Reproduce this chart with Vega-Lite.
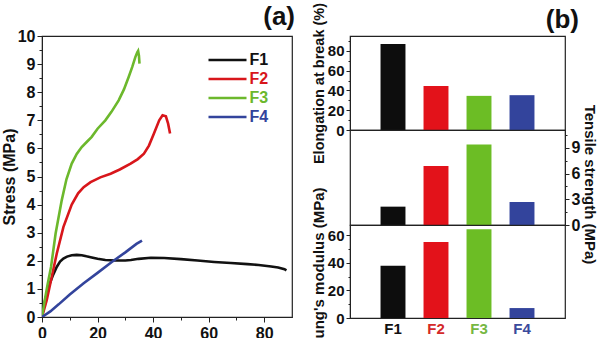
{
  "$schema": "https://vega.github.io/schema/vega-lite/v6.json",
  "padding": {"left": 0, "top": 1, "right": 0, "bottom": 0},
  "background": "white",
  "config": {
    "font": "Liberation Sans",
    "view": {"stroke": "#222", "strokeWidth": 1.2},
    "axis": {
      "domainColor": "#222",
      "tickColor": "#222",
      "labelColor": "#111",
      "labelFont": "Liberation Sans",
      "labelFontWeight": "bold",
      "titleFont": "Liberation Sans",
      "titleFontWeight": "bold",
      "titleColor": "#111",
      "grid": false
    }
  },
  "datasets": {
    "bars": [
      {"s": "F1", "elong": 87, "tensile": 2.14, "modulus": 37.8},
      {"s": "F2", "elong": 44.5, "tensile": 6.88, "modulus": 55.1},
      {"s": "F3", "elong": 34.5, "tensile": 9.4, "modulus": 64.3},
      {"s": "F4", "elong": 35.2, "tensile": 2.68, "modulus": 7.2}
    ]
  },
  "bounds": "flush",
  "spacing": 58,
  "resolve": {"scale": {"color": "independent"}, "legend": {"color": "independent"}},
  "hconcat": [
    {
      "width": 250,
      "height": 281,
      "title": {"text": "(a)", "anchor": "end", "fontSize": 26, "fontWeight": "bold", "font": "Liberation Sans", "color": "#111", "offset": 0, "dx": 3, "dy": 2},
      "data": {"values": [
        {"s": "F1", "o": 1, "strain": 0, "stress": 0},
        {"s": "F1", "o": 2, "strain": 0.5, "stress": 0.3},
        {"s": "F1", "o": 3, "strain": 1.1, "stress": 0.59},
        {"s": "F1", "o": 4, "strain": 2, "stress": 0.95},
        {"s": "F1", "o": 5, "strain": 2.9, "stress": 1.22},
        {"s": "F1", "o": 6, "strain": 4, "stress": 1.5},
        {"s": "F1", "o": 7, "strain": 5.3, "stress": 1.78},
        {"s": "F1", "o": 8, "strain": 6.5, "stress": 1.97},
        {"s": "F1", "o": 9, "strain": 7.7, "stress": 2.08},
        {"s": "F1", "o": 10, "strain": 9, "stress": 2.15},
        {"s": "F1", "o": 11, "strain": 10.7, "stress": 2.2},
        {"s": "F1", "o": 12, "strain": 12.5, "stress": 2.21},
        {"s": "F1", "o": 13, "strain": 14.3, "stress": 2.2},
        {"s": "F1", "o": 14, "strain": 16, "stress": 2.16},
        {"s": "F1", "o": 15, "strain": 17.9, "stress": 2.12},
        {"s": "F1", "o": 16, "strain": 20, "stress": 2.07},
        {"s": "F1", "o": 17, "strain": 22.8, "stress": 2.03},
        {"s": "F1", "o": 18, "strain": 26.4, "stress": 2.01},
        {"s": "F1", "o": 19, "strain": 30, "stress": 2.01},
        {"s": "F1", "o": 20, "strain": 32, "stress": 2.03},
        {"s": "F1", "o": 21, "strain": 34.8, "stress": 2.07},
        {"s": "F1", "o": 22, "strain": 39.2, "stress": 2.11},
        {"s": "F1", "o": 23, "strain": 44, "stress": 2.1},
        {"s": "F1", "o": 24, "strain": 50, "stress": 2.06},
        {"s": "F1", "o": 25, "strain": 56, "stress": 2.01},
        {"s": "F1", "o": 26, "strain": 62, "stress": 1.96},
        {"s": "F1", "o": 27, "strain": 68, "stress": 1.92},
        {"s": "F1", "o": 28, "strain": 74, "stress": 1.88},
        {"s": "F1", "o": 29, "strain": 78, "stress": 1.85},
        {"s": "F1", "o": 30, "strain": 82.5, "stress": 1.8},
        {"s": "F1", "o": 31, "strain": 85, "stress": 1.76},
        {"s": "F1", "o": 32, "strain": 87.3, "stress": 1.7},
        {"s": "F1", "o": 33, "strain": 88, "stress": 1.66},
        {"s": "F2", "o": 1, "strain": 0, "stress": 0},
        {"s": "F2", "o": 2, "strain": 1.7, "stress": 0.6},
        {"s": "F2", "o": 3, "strain": 3.5, "stress": 1.42},
        {"s": "F2", "o": 4, "strain": 5.3, "stress": 2.25},
        {"s": "F2", "o": 5, "strain": 7.7, "stress": 3.2},
        {"s": "F2", "o": 6, "strain": 10.7, "stress": 4.0},
        {"s": "F2", "o": 7, "strain": 13, "stress": 4.4},
        {"s": "F2", "o": 8, "strain": 15, "stress": 4.62},
        {"s": "F2", "o": 9, "strain": 17.5, "stress": 4.8},
        {"s": "F2", "o": 10, "strain": 21, "stress": 4.97},
        {"s": "F2", "o": 11, "strain": 24.7, "stress": 5.1},
        {"s": "F2", "o": 12, "strain": 28, "stress": 5.25},
        {"s": "F2", "o": 13, "strain": 31.9, "stress": 5.46},
        {"s": "F2", "o": 14, "strain": 34.5, "stress": 5.62},
        {"s": "F2", "o": 15, "strain": 36.7, "stress": 5.81},
        {"s": "F2", "o": 16, "strain": 38.5, "stress": 6.1},
        {"s": "F2", "o": 17, "strain": 40.3, "stress": 6.53},
        {"s": "F2", "o": 18, "strain": 42.2, "stress": 7.0},
        {"s": "F2", "o": 19, "strain": 43.4, "stress": 7.18},
        {"s": "F2", "o": 20, "strain": 44.6, "stress": 7.14},
        {"s": "F2", "o": 21, "strain": 45.4, "stress": 6.88},
        {"s": "F2", "o": 22, "strain": 46.1, "stress": 6.53},
        {"s": "F3", "o": 1, "strain": 0, "stress": 0},
        {"s": "F3", "o": 2, "strain": 1, "stress": 0.6},
        {"s": "F3", "o": 3, "strain": 2, "stress": 1.15},
        {"s": "F3", "o": 4, "strain": 3.25, "stress": 1.78},
        {"s": "F3", "o": 5, "strain": 4.9, "stress": 2.97},
        {"s": "F3", "o": 6, "strain": 7.1, "stress": 4.15},
        {"s": "F3", "o": 7, "strain": 8.8, "stress": 4.9},
        {"s": "F3", "o": 8, "strain": 10.7, "stress": 5.46},
        {"s": "F3", "o": 9, "strain": 12.5, "stress": 5.8},
        {"s": "F3", "o": 10, "strain": 14.3, "stress": 6.05},
        {"s": "F3", "o": 11, "strain": 16, "stress": 6.22},
        {"s": "F3", "o": 12, "strain": 17.9, "stress": 6.41},
        {"s": "F3", "o": 13, "strain": 20, "stress": 6.7},
        {"s": "F3", "o": 14, "strain": 22.8, "stress": 7.0},
        {"s": "F3", "o": 15, "strain": 25, "stress": 7.3},
        {"s": "F3", "o": 16, "strain": 27.6, "stress": 7.71},
        {"s": "F3", "o": 17, "strain": 29.5, "stress": 8.1},
        {"s": "F3", "o": 18, "strain": 31.2, "stress": 8.54},
        {"s": "F3", "o": 19, "strain": 32.5, "stress": 8.9},
        {"s": "F3", "o": 20, "strain": 33.6, "stress": 9.25},
        {"s": "F3", "o": 21, "strain": 34.3, "stress": 9.42},
        {"s": "F3", "o": 22, "strain": 34.6, "stress": 9.47},
        {"s": "F3", "o": 23, "strain": 34.9, "stress": 9.3},
        {"s": "F3", "o": 24, "strain": 35.1, "stress": 9.02},
        {"s": "F4", "o": 1, "strain": 0, "stress": 0},
        {"s": "F4", "o": 2, "strain": 3, "stress": 0.2},
        {"s": "F4", "o": 3, "strain": 6, "stress": 0.45},
        {"s": "F4", "o": 4, "strain": 10, "stress": 0.8},
        {"s": "F4", "o": 5, "strain": 15, "stress": 1.2},
        {"s": "F4", "o": 6, "strain": 20, "stress": 1.57},
        {"s": "F4", "o": 7, "strain": 25, "stress": 1.95},
        {"s": "F4", "o": 8, "strain": 30, "stress": 2.3},
        {"s": "F4", "o": 9, "strain": 34, "stress": 2.6},
        {"s": "F4", "o": 10, "strain": 36, "stress": 2.72}
      ]},
      "mark": {"type": "line", "strokeWidth": 2.6, "clip": true},
      "encoding": {
        "x": {
          "field": "strain", "type": "quantitative",
          "scale": {"domain": [0, 90], "nice": false},
          "axis": {
            "title": null,
            "values": [0, 10, 20, 30, 40, 50, 60, 70, 80],
            "format": "d",
            "labelExpr": "datum.value % 20 === 0 ? datum.label : ''",
            "labelFontSize": 16,
            "labelPadding": 3,
            "tickSize": {"condition": {"test": "datum.value % 20 !== 0", "value": 3}, "value": 5},
            "labelFlush": false
          }
        },
        "y": {
          "field": "stress", "type": "quantitative",
          "scale": {"domain": [0, 10], "nice": false},
          "axis": {
            "title": "Stress (MPa)",
            "titleFontSize": 16,
            "titlePadding": 0,
            "values": [0, 0.5, 1, 1.5, 2, 2.5, 3, 3.5, 4, 4.5, 5, 5.5, 6, 6.5, 7, 7.5, 8, 8.5, 9, 9.5, 10],
            "format": "~g",
            "labelExpr": "datum.value % 1 === 0 ? datum.label : ''",
            "labelFontSize": 16,
            "labelPadding": 2,
            "tickSize": {"condition": {"test": "datum.value % 1 !== 0", "value": 3}, "value": 5},
            "labelFlush": false
          }
        },
        "color": {
          "field": "s", "type": "nominal",
          "scale": {"domain": ["F1", "F2", "F3", "F4"], "range": ["#111111", "#d8161b", "#6cb82c", "#33449c"]},
          "legend": {
            "title": null,
            "orient": "none",
            "legendX": 174.5,
            "legendY": 13,
            "symbolType": "M-2,0H2",
            "symbolSize": 361,
            "symbolStrokeWidth": 2.5,
            "labelFontSize": 16,
            "labelFontWeight": "bold",
            "labelFont": "Liberation Sans",
            "labelOffset": 11,
            "rowPadding": 0,
            "encode": {"labels": {"update": {"fill": {"signal": "datum.value === 'F1' ? '#111111' : datum.value === 'F2' ? '#d8161b' : datum.value === 'F3' ? '#6cb82c' : '#33449c'"}}}}
          }
        },
        "order": {"field": "o", "type": "quantitative"}
      }
    },
    {
      "bounds": "flush",
      "spacing": 0,
      "vconcat": [
        {
          "width": 215,
          "height": 94,
          "title": {"text": "(b)", "anchor": "end", "fontSize": 26, "fontWeight": "bold", "font": "Liberation Sans", "color": "#111", "offset": 5, "dx": 14, "dy": 36},
          "data": {"name": "bars"},
          "mark": {"type": "bar"},
          "encoding": {
            "x": {"field": "s", "type": "nominal", "scale": {"domain": ["F1", "F2", "F3", "F4"], "paddingInner": 0.42, "paddingOuter": 0.71}, "axis": null},
            "y": {
              "field": "elong", "type": "quantitative",
              "scale": {"domain": [0, 95], "nice": false},
              "axis": {
                "title": "Elongation at break (%)",
                "titleFontSize": 14.5,
                "titlePadding": 1,
                "values": [0, 10, 20, 30, 40, 50, 60, 70, 80, 90],
                "labelExpr": "datum.value % 20 === 0 ? datum.label : ''",
                "labelFontSize": 15,
                "labelPadding": 2,
                "tickSize": {"condition": {"test": "datum.value % 20 !== 0", "value": 2}, "value": 4},
                "labelFlush": false
              }
            },
            "color": {"field": "s", "type": "nominal", "scale": {"domain": ["F1", "F2", "F3", "F4"], "range": ["#0d0d0d", "#e3121a", "#6cbd25", "#33449c"]}, "legend": null}
          }
        },
        {
          "width": 215,
          "height": 95,
          "data": {"name": "bars"},
          "mark": {"type": "bar"},
          "encoding": {
            "x": {"field": "s", "type": "nominal", "scale": {"domain": ["F1", "F2", "F3", "F4"], "paddingInner": 0.42, "paddingOuter": 0.71}, "axis": null},
            "y": {
              "field": "tensile", "type": "quantitative",
              "scale": {"domain": [0, 11.08], "nice": false},
              "axis": {
                "orient": "right",
                "title": "Tensile strength (MPa)",
                "titleFontSize": 15,
                "titlePadding": 2,
                "titleY": 54,
                "values": [0, 1.5, 3, 4.5, 6, 7.5, 9, 10.5],
                "format": "~g",
                "labelExpr": "datum.value % 3 === 0 ? datum.label : ''",
                "labelFontSize": 16,
                "labelPadding": 2,
                "tickSize": {"condition": {"test": "datum.value % 3 !== 0", "value": 2}, "value": 4},
                "labelFlush": false
              }
            },
            "color": {"field": "s", "type": "nominal", "scale": {"domain": ["F1", "F2", "F3", "F4"], "range": ["#0d0d0d", "#e3121a", "#6cbd25", "#33449c"]}, "legend": null}
          }
        },
        {
          "width": 215,
          "height": 93,
          "data": {"name": "bars"},
          "mark": {"type": "bar"},
          "encoding": {
            "x": {
              "field": "s", "type": "nominal",
              "scale": {"domain": ["F1", "F2", "F3", "F4"], "paddingInner": 0.42, "paddingOuter": 0.71},
              "axis": {
                "title": null,
                "ticks": false,
                "domain": false,
                "labelAngle": 0,
                "labelFontSize": 15,
                "labelPadding": 3,
                "labelColor": {"condition": [{"test": "datum.value === 'F2'", "value": "#d42a2a"}, {"test": "datum.value === 'F3'", "value": "#76b743"}, {"test": "datum.value === 'F4'", "value": "#3a4a9c"}], "value": "#111111"}
              }
            },
            "y": {
              "field": "modulus", "type": "quantitative",
              "scale": {"domain": [0, 67.4], "nice": false},
              "axis": {
                "title": "Young's modulus (MPa)",
                "titleFontSize": 15,
                "titlePadding": 1,
                "values": [0, 10, 20, 30, 40, 50, 60],
                "labelExpr": "datum.value % 20 === 0 ? datum.label : ''",
                "labelFontSize": 15,
                "labelPadding": 2,
                "tickSize": {"condition": {"test": "datum.value % 20 !== 0", "value": 2}, "value": 4},
                "labelFlush": false
              }
            },
            "color": {"field": "s", "type": "nominal", "scale": {"domain": ["F1", "F2", "F3", "F4"], "range": ["#0d0d0d", "#e3121a", "#6cbd25", "#33449c"]}, "legend": null}
          }
        }
      ]
    }
  ]
}
